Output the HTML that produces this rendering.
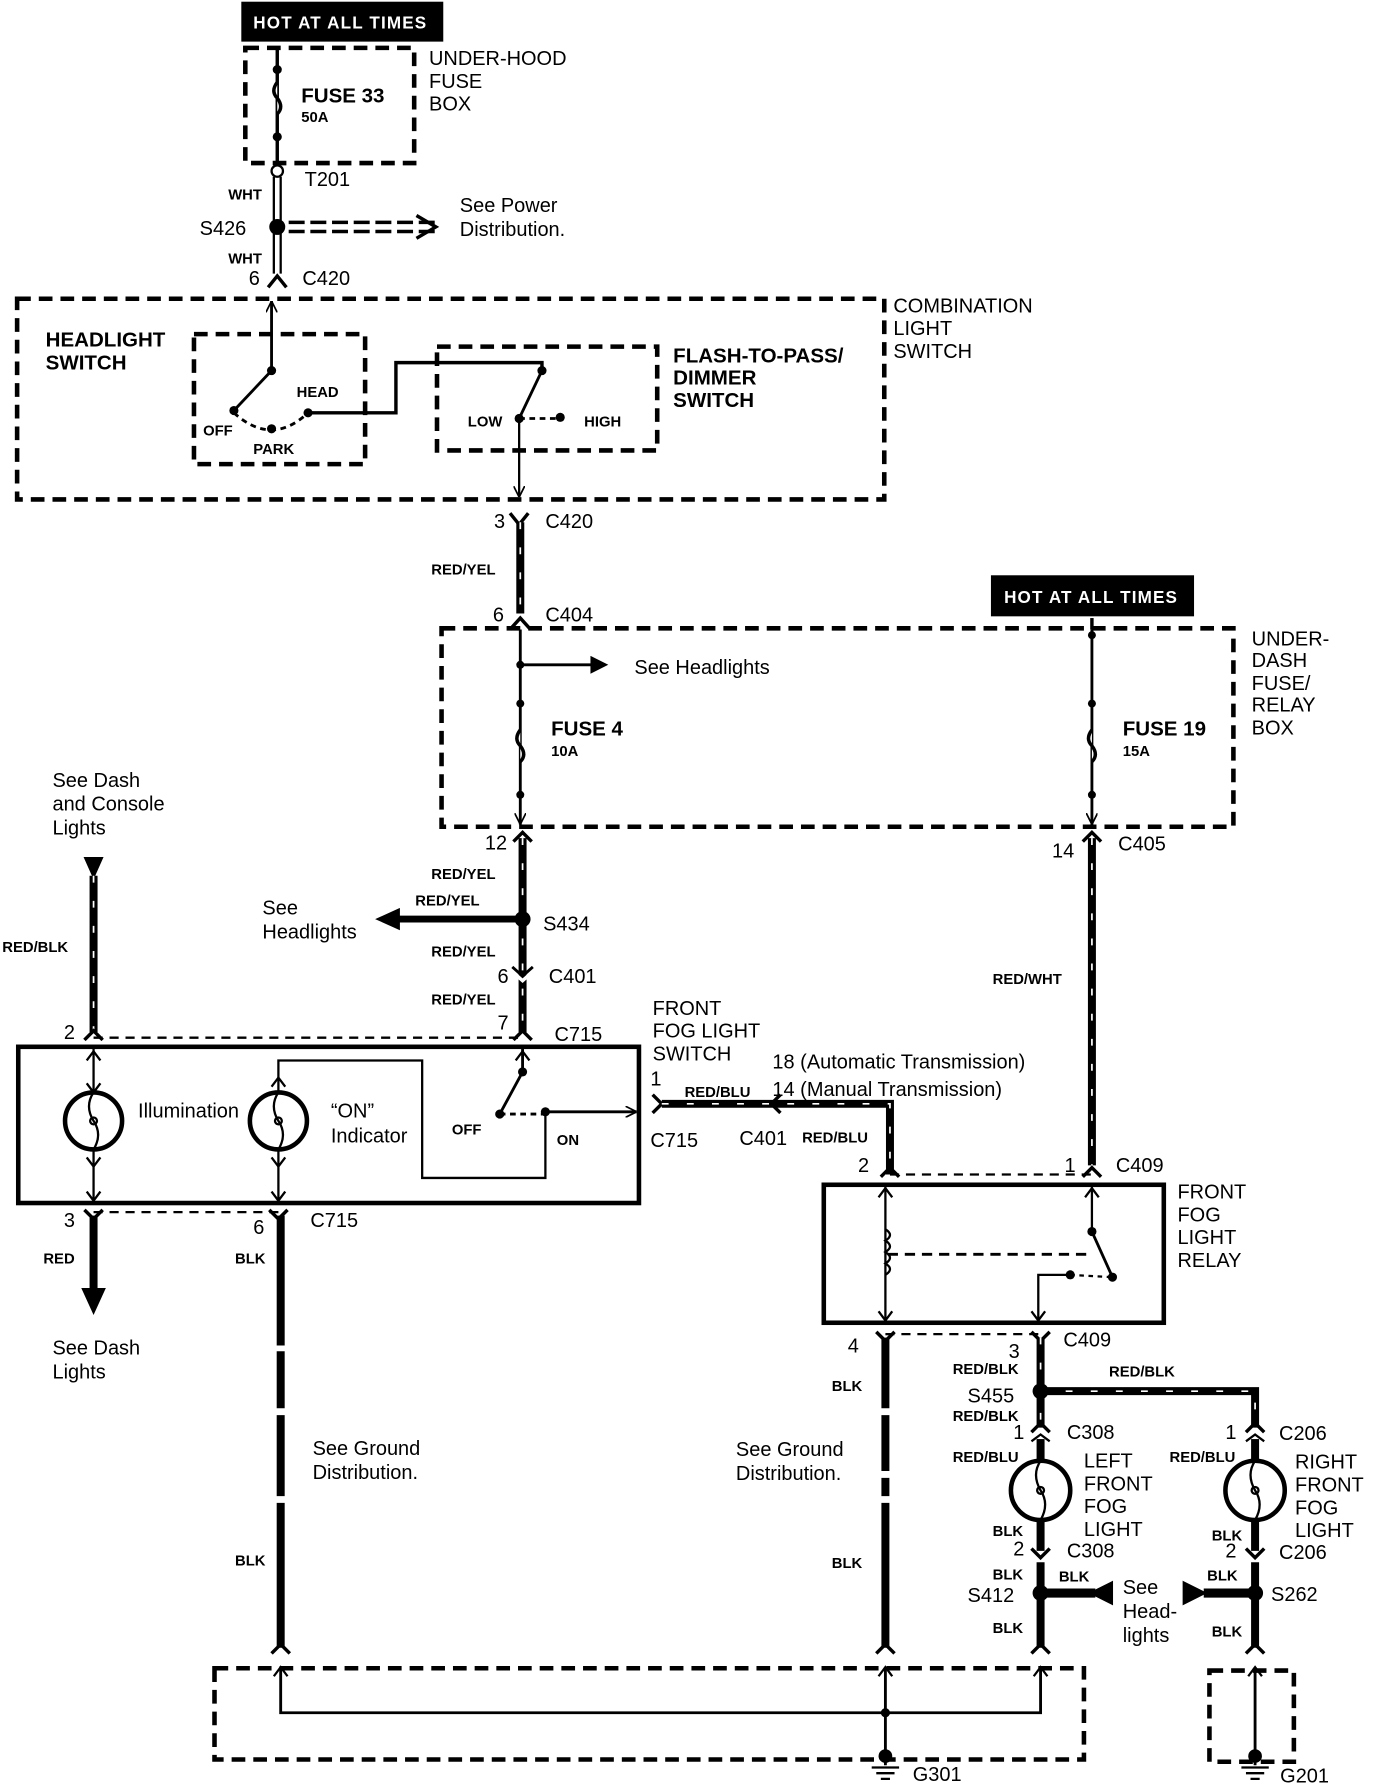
<!DOCTYPE html>
<html><head><meta charset="utf-8"><style>
html,body{margin:0;padding:0;background:#fff;}
svg{display:block}
text{font-family:"Liberation Sans Narrow","Liberation Sans",sans-serif;fill:#000}
.t{font-size:17.5px}
.b{font-size:18px;font-weight:bold}
.s{font-size:13px;font-weight:bold}
</style></head><body>
<svg width="1392" height="1788" viewBox="0 0 1220 1568" preserveAspectRatio="none" xmlns="http://www.w3.org/2000/svg">
<defs>
<marker id="ar" viewBox="0 0 10 10" refX="10" refY="5" markerWidth="10" markerHeight="10" markerUnits="userSpaceOnUse" orient="auto"><path d="M0,0 L10,5 L0,10" fill="none" stroke="#000" stroke-width="1.5"/></marker>
</defs>
<g fill="none" stroke="#000">
<rect x="212" y="2" width="176" height="34" fill="#000"/>
<rect x="215" y="42" width="148" height="101" stroke-width="4" stroke-dasharray="12 7"/>
<line x1="243" y1="42" x2="243" y2="143" stroke-width="3"/>
<path d="M243,72 q-6,8 0,14 q6,8 0,14" stroke-width="3" fill="#fff"/>
<circle cx="243" cy="150" r="5" stroke-width="2" fill="#fff"/>
<line x1="240" y1="155" x2="240" y2="240" stroke-width="2"/>
<line x1="246" y1="155" x2="246" y2="240" stroke-width="2"/>
<path d="M253,195 h130 M253,203 h130" stroke-width="3" stroke-dasharray="14 5"/>
<path d="M365,189 L382,199 L365,209" stroke-width="3"/>
<path d="M235,252 L243,242 L251,252" stroke-width="3"/>
<rect x="15" y="262" width="760" height="176" stroke-width="4" stroke-dasharray="12 7"/>
<rect x="170" y="293" width="150" height="114" stroke-width="4" stroke-dasharray="12 7"/>
<rect x="383" y="304" width="193" height="91" stroke-width="4" stroke-dasharray="12 7"/>
<line x1="238" y1="325" x2="238" y2="264" stroke-width="2.5" marker-end="url(#ar)"/>
<line x1="238" y1="325" x2="205" y2="360" stroke-width="2.5"/>
<path d="M205,362 Q238,392 270,362" stroke-width="2.5" stroke-dasharray="5 4"/>
<path d="M270,362 H347 V318 H475 V325" stroke-width="3"/>
<line x1="475" y1="325" x2="455" y2="367" stroke-width="2.5"/>
<line x1="455" y1="367" x2="491" y2="367" stroke-width="2.5" stroke-dasharray="5 4"/>
<line x1="455" y1="367" x2="455" y2="436" stroke-width="2" marker-end="url(#ar)"/>
<path d="M447,450 L455,460 L463,450" stroke-width="3"/>
<line x1="456" y1="458" x2="456" y2="538" stroke-width="7"/>
<line x1="456" y1="458" x2="456" y2="538" stroke="#fff" stroke-width="1.5" stroke-dasharray="6 16"/>
<path d="M447,552 L456,542 L465,552" stroke-width="3"/>
<rect x="869" y="505" width="177" height="35" fill="#000"/>
<rect x="387" y="551" width="694" height="174" stroke-width="4" stroke-dasharray="12 7"/>
<line x1="456" y1="552" x2="456" y2="723" stroke-width="2.5" marker-end="url(#ar)"/>
<line x1="456" y1="583" x2="530" y2="583" stroke-width="2.5"/>
<path d="M518,576 L532,583 L518,590 Z" fill="#000"/>
<path d="M456,640 q-6,8 0,14 q6,8 0,14" stroke-width="3" fill="#fff"/>
<line x1="957" y1="552" x2="957" y2="723" stroke-width="2.5" marker-end="url(#ar)"/>
<path d="M957,640 q-6,8 0,14 q6,8 0,14" stroke-width="3" fill="#fff"/>
<line x1="957" y1="552" x2="957" y2="542" stroke-width="3"/>
<path d="M450,738 L458,730 L466,738" stroke-width="3"/>
<line x1="458" y1="735" x2="458" y2="905" stroke-width="7"/>
<line x1="458" y1="735" x2="458" y2="905" stroke="#fff" stroke-width="1.5" stroke-dasharray="6 16"/>
<line x1="458" y1="806" x2="345" y2="806" stroke-width="6"/>
<path d="M350,797 L330,806 L350,815 Z" fill="#000"/>
<path d="M449,852 L458,860 L467,852" stroke-width="3" stroke="#fff"/>
<path d="M449,848 L458,856 L467,848" stroke-width="2.5" stroke="#000"/>
<path d="M949,738 L957,730 L965,738" stroke-width="3"/>
<line x1="957" y1="735" x2="957" y2="1022" stroke-width="7"/>
<line x1="957" y1="735" x2="957" y2="1022" stroke="#fff" stroke-width="1.5" stroke-dasharray="6 16"/>
<path d="M74,752 L90,752 L82,770 Z" fill="#000"/>
<line x1="82" y1="768" x2="82" y2="905" stroke-width="7"/>
<line x1="82" y1="768" x2="82" y2="905" stroke="#fff" stroke-width="1.5" stroke-dasharray="6 16"/>
<line x1="82" y1="910" x2="458" y2="910" stroke-width="2" stroke-dasharray="8 6"/>
<path d="M74,912 L82,904 L90,912 M450,912 L458,904 L466,912" stroke-width="3"/>
<rect x="16" y="918" width="544" height="137" stroke-width="4"/>
<line x1="82" y1="918" x2="82" y2="958" stroke-width="2"/>
<path d="M76,930 L82,922 L88,930 M76,950 L82,958 L88,950" stroke-width="2"/>
<circle cx="82" cy="983" r="25" stroke-width="4"/>
<path d="M82,958 q-8,12 0,25 q8,12 0,25" stroke-width="2"/>
<circle cx="82" cy="983" r="3" stroke-width="2"/>
<line x1="82" y1="1008" x2="82" y2="1055" stroke-width="2"/>
<path d="M76,1015 L82,1023 L88,1015 M76,1045 L82,1053 L88,1045" stroke-width="2"/>
<circle cx="244" cy="983" r="25" stroke-width="4"/>
<path d="M244,958 q-8,12 0,25 q8,12 0,25" stroke-width="2"/>
<circle cx="244" cy="983" r="3" stroke-width="2"/>
<path d="M244,958 V930 H370 V1033 H478 V975" stroke-width="2"/>
<path d="M238,953 L244,945 L250,953" stroke-width="2"/>
<line x1="244" y1="1008" x2="244" y2="1055" stroke-width="2"/>
<path d="M238,1015 L244,1023 L250,1015 M238,1045 L244,1053 L250,1045" stroke-width="2"/>
<line x1="458" y1="918" x2="458" y2="940" stroke-width="2.5"/>
<path d="M452,930 L458,922 L464,930" stroke-width="2"/>
<line x1="458" y1="940" x2="438" y2="977" stroke-width="2.5"/>
<line x1="438" y1="977" x2="478" y2="977" stroke-width="2.5" stroke-dasharray="5 4"/>
<line x1="478" y1="975" x2="558" y2="975" stroke-width="2.5" marker-end="url(#ar)"/>
<path d="M572,960 L580,968 L572,976" stroke-width="3"/>
<path d="M684,960 L676,968 L684,976" stroke-width="3"/>
<path d="M580,968 H780 V1030" stroke-width="7"/>
<path d="M580,968 H780 V1030" stroke="#fff" stroke-width="1.5" stroke-dasharray="6 16"/>
<line x1="780" y1="1030" x2="957" y2="1030" stroke-width="2" stroke-dasharray="8 6"/>
<path d="M772,1032 L780,1024 L788,1032 M949,1032 L957,1024 L965,1032" stroke-width="3"/>
<rect x="722" y="1039" width="298" height="121" stroke-width="4"/>
<line x1="776" y1="1041" x2="776" y2="1158" stroke-width="2"/>
<path d="M770,1050 L776,1042 L782,1050 M770,1150 L776,1158 L782,1150" stroke-width="2"/>
<path d="M776,1078 q8,5 0,10 q8,5 0,10 q8,5 0,10 q8,5 0,10" stroke-width="2"/>
<line x1="778" y1="1100" x2="955" y2="1100" stroke-width="2.5" stroke-dasharray="9 6"/>
<line x1="957" y1="1041" x2="957" y2="1080" stroke-width="2"/>
<path d="M951,1050 L957,1042 L963,1050" stroke-width="2"/>
<line x1="957" y1="1080" x2="975" y2="1120" stroke-width="2.5"/>
<line x1="938" y1="1118" x2="975" y2="1120" stroke-width="2" stroke-dasharray="4 4"/>
<path d="M938,1118 H910 V1158" stroke-width="2"/>
<path d="M904,1150 L910,1158 L916,1150" stroke-width="2"/>
<line x1="776" y1="1170" x2="912" y2="1170" stroke-width="2" stroke-dasharray="8 6"/>
<path d="M768,1168 L776,1176 L784,1168 M904,1168 L912,1176 L920,1168" stroke-width="3"/>
<line x1="82" y1="1063" x2="244" y2="1063" stroke-width="2" stroke-dasharray="8 6"/>
<path d="M74,1061 L82,1069 L90,1061 M236,1061 L244,1069 L252,1061" stroke-width="3"/>
<line x1="82" y1="1066" x2="82" y2="1132" stroke-width="7"/>
<path d="M72,1130 L92,1130 L82,1152 Z" fill="#000"/>
<line x1="246" y1="1066" x2="246" y2="1445" stroke-width="7"/>
<path d="M246,1180 v5 M246,1235 v6 M246,1312 v6" stroke="#fff" stroke-width="9"/>
<line x1="776" y1="1173" x2="776" y2="1445" stroke-width="7"/>
<path d="M776,1235 v6 M776,1290 v6 M776,1312 v6" stroke="#fff" stroke-width="9"/>
<line x1="912" y1="1173" x2="912" y2="1252" stroke-width="7"/>
<line x1="912" y1="1173" x2="912" y2="1252" stroke="#fff" stroke-width="1.5" stroke-dasharray="6 16"/>
<path d="M912,1220 H1100 V1252" stroke-width="7"/>
<path d="M912,1220 H1100 V1252" stroke="#fff" stroke-width="1.5" stroke-dasharray="6 16"/>
<path d="M904,1256 L912,1248 L920,1256 M1092,1256 L1100,1248 L1108,1256" stroke-width="3"/>
<line x1="912" y1="1262" x2="912" y2="1282" stroke-width="7"/>
<line x1="1100" y1="1262" x2="1100" y2="1282" stroke-width="7"/>
<path d="M904,1264 L912,1258 L920,1264 M1092,1264 L1100,1258 L1108,1264" stroke="#000" stroke-width="2"/>
<circle cx="912" cy="1307" r="26" stroke-width="4"/>
<path d="M912,1281 q-8,12 0,26 q8,12 0,26" stroke-width="2"/>
<circle cx="912" cy="1307" r="3" stroke-width="2"/>
<circle cx="1100" cy="1307" r="26" stroke-width="4"/>
<path d="M1100,1281 q-8,12 0,26 q8,12 0,26" stroke-width="2"/>
<circle cx="1100" cy="1307" r="3" stroke-width="2"/>
<line x1="912" y1="1333" x2="912" y2="1360" stroke-width="7"/>
<line x1="1100" y1="1333" x2="1100" y2="1360" stroke-width="7"/>
<path d="M904,1358 L912,1366 L920,1358 M1092,1358 L1100,1366 L1108,1358" stroke-width="3"/>
<line x1="912" y1="1370" x2="912" y2="1445" stroke-width="7"/>
<line x1="1100" y1="1370" x2="1100" y2="1445" stroke-width="7"/>
<line x1="912" y1="1397" x2="960" y2="1397" stroke-width="8"/>
<path d="M975,1387 L955,1397 L975,1407 Z" fill="#000"/>
<line x1="1055" y1="1397" x2="1100" y2="1397" stroke-width="8"/>
<path d="M1037,1387 L1057,1397 L1037,1407 Z" fill="#000"/>
<path d="M238,1450 L246,1442 L254,1450 M768,1450 L776,1442 L784,1450 M904,1450 L912,1442 L920,1450 M1092,1450 L1100,1442 L1108,1450" stroke-width="3"/>
<rect x="188" y="1463" width="762" height="80" stroke-width="4" stroke-dasharray="12 7"/>
<path d="M246,1462 V1502 H912 V1462" stroke-width="2.5"/>
<path d="M240,1470 L246,1462 L252,1470 M906,1470 L912,1462 L918,1470" stroke-width="2"/>
<line x1="776" y1="1462" x2="776" y2="1548" stroke-width="2.5"/>
<path d="M770,1470 L776,1462 L782,1470" stroke-width="2"/>
<path d="M764,1550 h24 M768,1555 h16 M772,1560 h8" stroke-width="2"/>
<rect x="1060" y="1465" width="74" height="80" stroke-width="4" stroke-dasharray="12 7"/>
<line x1="1100" y1="1462" x2="1100" y2="1548" stroke-width="2.5"/>
<path d="M1094,1470 L1100,1462 L1106,1470" stroke-width="2"/>
<path d="M1088,1550 h24 M1092,1555 h16 M1096,1560 h8" stroke-width="2"/>
</g>
<g fill="#000">
<circle cx="243" cy="61" r="4"/><circle cx="243" cy="120" r="4"/>
<circle cx="243" cy="199" r="7"/>
<circle cx="238" cy="325" r="4"/><circle cx="205" cy="360" r="4"/><circle cx="270" cy="362" r="4"/><circle cx="238" cy="376" r="4"/>
<circle cx="475" cy="325" r="4"/><circle cx="455" cy="367" r="4"/><circle cx="491" cy="366" r="4"/>
<circle cx="456" cy="583" r="3.5"/><circle cx="456" cy="617" r="3.5"/><circle cx="456" cy="697" r="3.5"/>
<circle cx="957" cy="557" r="3.5"/><circle cx="957" cy="617" r="3.5"/><circle cx="957" cy="697" r="3.5"/>
<circle cx="458" cy="806" r="7"/>
<circle cx="458" cy="940" r="4"/><circle cx="438" cy="977" r="4"/><circle cx="478" cy="975" r="4"/>
<circle cx="957" cy="1080" r="4"/><circle cx="975" cy="1120" r="4"/><circle cx="938" cy="1118" r="4"/>
<circle cx="912" cy="1220" r="7"/><circle cx="912" cy="1397" r="7"/><circle cx="1100" cy="1397" r="7"/>
<circle cx="776" cy="1502" r="4"/><circle cx="776" cy="1540" r="6"/><circle cx="1100" cy="1540" r="6"/>
</g>
<text x="222" y="25" style="font-size:15px;font-weight:bold;fill:#fff;letter-spacing:1px">HOT AT ALL TIMES</text>
<text x="880" y="529" style="font-size:15px;font-weight:bold;fill:#fff;letter-spacing:1px">HOT AT ALL TIMES</text>
<text class="t" x="376" y="57">UNDER-HOOD</text><text class="t" x="376" y="77">FUSE</text><text class="t" x="376" y="97">BOX</text>
<text class="b" x="264" y="90">FUSE 33</text><text class="s" x="264" y="107">50A</text>
<text class="t" x="267" y="163">T201</text>
<text class="s" x="200" y="175">WHT</text><text class="s" x="200" y="231">WHT</text>
<text class="t" x="175" y="206">S426</text>
<text class="t" x="403" y="186">See Power</text><text class="t" x="403" y="207">Distribution.</text>
<text class="t" x="218" y="250">6</text><text class="t" x="265" y="250">C420</text>
<text class="t" x="783" y="274">COMBINATION</text><text class="t" x="783" y="294">LIGHT</text><text class="t" x="783" y="314">SWITCH</text>
<text class="b" x="40" y="304">HEADLIGHT</text><text class="b" x="40" y="324">SWITCH</text>
<text class="s" x="260" y="348">HEAD</text><text class="s" x="178" y="382">OFF</text><text class="s" x="222" y="398">PARK</text>
<text class="s" x="410" y="374">LOW</text><text class="s" x="512" y="374">HIGH</text>
<text class="b" x="590" y="318">FLASH-TO-PASS/</text><text class="b" x="590" y="337">DIMMER</text><text class="b" x="590" y="357">SWITCH</text>
<text class="t" x="433" y="463">3</text><text class="t" x="478" y="463">C420</text>
<text class="s" x="378" y="504">RED/YEL</text>
<text class="t" x="432" y="545">6</text><text class="t" x="478" y="545">C404</text>
<text class="t" x="1097" y="566">UNDER-</text><text class="t" x="1097" y="585">DASH</text><text class="t" x="1097" y="605">FUSE/</text><text class="t" x="1097" y="624">RELAY</text><text class="t" x="1097" y="644">BOX</text>
<text class="t" x="556" y="591">See Headlights</text>
<text class="b" x="483" y="645">FUSE 4</text><text class="s" x="483" y="663">10A</text>
<text class="b" x="984" y="645">FUSE 19</text><text class="s" x="984" y="663">15A</text>
<text class="t" x="425" y="745">12</text><text class="t" x="922" y="752">14</text><text class="t" x="980" y="746">C405</text>
<text class="t" x="46" y="690">See Dash</text><text class="t" x="46" y="711">and Console</text><text class="t" x="46" y="732">Lights</text>
<text class="s" x="2" y="835">RED/BLK</text>
<text class="s" x="378" y="771">RED/YEL</text><text class="s" x="364" y="794">RED/YEL</text><text class="s" x="378" y="839">RED/YEL</text><text class="s" x="378" y="881">RED/YEL</text>
<text class="t" x="230" y="802">See</text><text class="t" x="230" y="823">Headlights</text>
<text class="t" x="476" y="816">S434</text>
<text class="t" x="436" y="862">6</text><text class="t" x="481" y="862">C401</text>
<text class="s" x="870" y="863">RED/WHT</text>
<text class="t" x="56" y="911">2</text><text class="t" x="436" y="903">7</text><text class="t" x="486" y="913">C715</text>
<text class="t" x="572" y="890">FRONT</text><text class="t" x="572" y="910">FOG LIGHT</text><text class="t" x="572" y="930">SWITCH</text>
<text class="t" x="677" y="937">18 (Automatic Transmission)</text><text class="t" x="677" y="961">14 (Manual Transmission)</text>
<text class="t" x="121" y="980">Illumination</text>
<text class="t" x="290" y="980">“ON”</text><text class="t" x="290" y="1002">Indicator</text>
<text class="s" x="396" y="995">OFF</text><text class="s" x="488" y="1004">ON</text>
<text class="t" x="570" y="952">1</text><text class="s" x="600" y="962">RED/BLU</text>
<text class="t" x="570" y="1006">C715</text><text class="t" x="648" y="1004">C401</text><text class="s" x="703" y="1002">RED/BLU</text>
<text class="t" x="752" y="1028">2</text><text class="t" x="933" y="1028">1</text><text class="t" x="978" y="1028">C409</text>
<text class="t" x="1032" y="1051">FRONT</text><text class="t" x="1032" y="1071">FOG</text><text class="t" x="1032" y="1091">LIGHT</text><text class="t" x="1032" y="1111">RELAY</text>
<text class="t" x="56" y="1076">3</text><text class="t" x="222" y="1082">6</text><text class="t" x="272" y="1076">C715</text>
<text class="s" x="38" y="1108">RED</text><text class="s" x="206" y="1108">BLK</text>
<text class="t" x="46" y="1188">See Dash</text><text class="t" x="46" y="1209">Lights</text>
<text class="t" x="274" y="1276">See Ground</text><text class="t" x="274" y="1297">Distribution.</text>
<text class="s" x="206" y="1373">BLK</text>
<text class="t" x="743" y="1186">4</text><text class="t" x="932" y="1181">C409</text><text class="t" x="884" y="1191">3</text>
<text class="s" x="729" y="1220">BLK</text><text class="s" x="729" y="1375">BLK</text>
<text class="t" x="645" y="1277">See Ground</text><text class="t" x="645" y="1298">Distribution.</text>
<text class="s" x="835" y="1205">RED/BLK</text><text class="s" x="972" y="1207">RED/BLK</text>
<text class="t" x="848" y="1230">S455</text>
<text class="s" x="835" y="1246">RED/BLK</text>
<text class="t" x="888" y="1262">1</text><text class="t" x="935" y="1262">C308</text>
<text class="t" x="1074" y="1262">1</text><text class="t" x="1121" y="1263">C206</text>
<text class="s" x="835" y="1282">RED/BLU</text><text class="s" x="1025" y="1282">RED/BLU</text>
<text class="t" x="950" y="1287">LEFT</text><text class="t" x="950" y="1307">FRONT</text><text class="t" x="950" y="1327">FOG</text><text class="t" x="950" y="1347">LIGHT</text>
<text class="t" x="1135" y="1288">RIGHT</text><text class="t" x="1135" y="1308">FRONT</text><text class="t" x="1135" y="1328">FOG</text><text class="t" x="1135" y="1348">LIGHT</text>
<text class="s" x="870" y="1347">BLK</text><text class="s" x="1062" y="1351">BLK</text>
<text class="t" x="888" y="1364">2</text><text class="t" x="935" y="1366">C308</text>
<text class="t" x="1074" y="1366">2</text><text class="t" x="1121" y="1367">C206</text>
<text class="s" x="870" y="1385">BLK</text><text class="s" x="928" y="1387">BLK</text><text class="s" x="1058" y="1386">BLK</text>
<text class="t" x="848" y="1405">S412</text><text class="t" x="1114" y="1404">S262</text>
<text class="t" x="984" y="1398">See</text><text class="t" x="984" y="1419">Head-</text><text class="t" x="984" y="1440">lights</text>
<text class="s" x="870" y="1432">BLK</text><text class="s" x="1062" y="1435">BLK</text>
<text class="t" x="800" y="1562">G301</text><text class="t" x="1122" y="1563">G201</text>
</svg>
</body></html>
